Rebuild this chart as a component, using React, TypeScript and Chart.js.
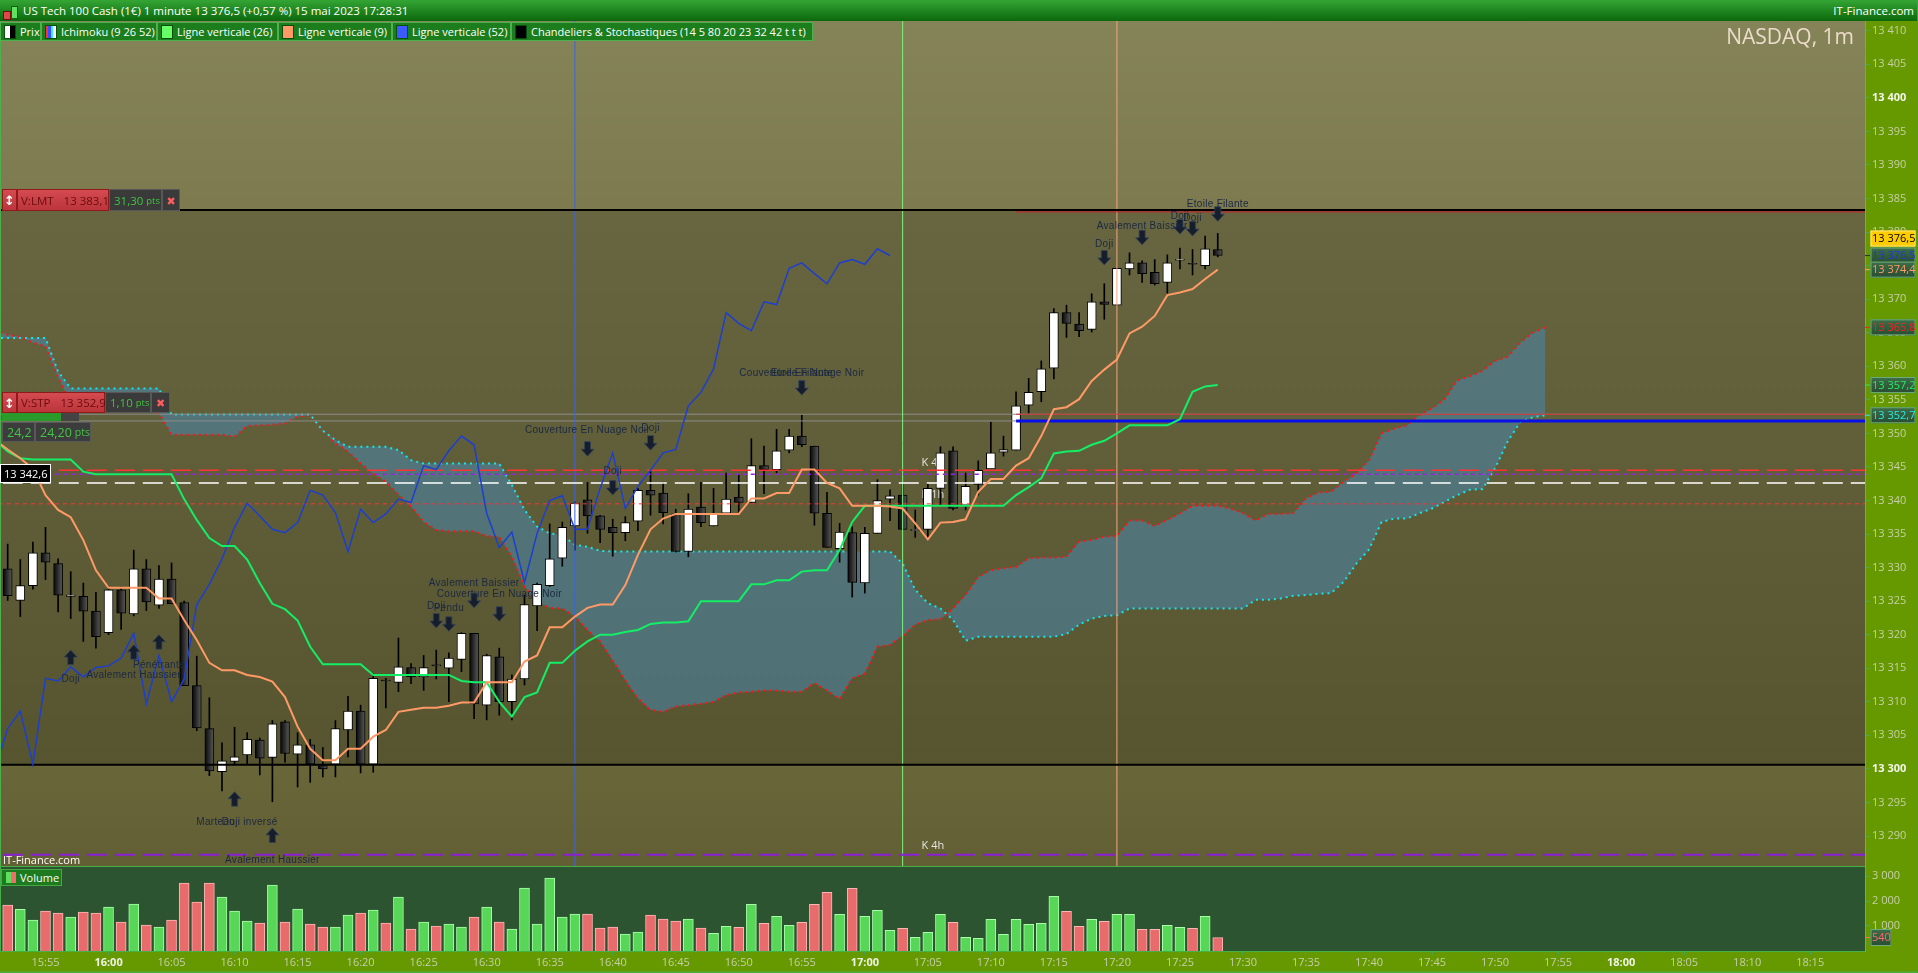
import React, { useEffect, useRef } from "react";
import { Chart, registerables } from "chart.js";

Chart.register(...registerables);

const FONT = "'Open Sans', 'Noto Sans', 'DejaVu Sans', sans-serif";

// ======================= DATA =======================
const firstCandleTime = "15:52";
const opens = [
  13329.8, 13325.1, 13327.3, 13332.2, 13330.6, 13325.7, 13325.7, 13323.5, 13320.3, 13326.7,
  13323.1, 13329.8, 13324.4, 13328.3, 13324.8, 13312.4, 13306.0, 13299.6, 13301.1, 13302.1,
  13304.3, 13301.7, 13307.0, 13302.2, 13303.6, 13300.5, 13300.7, 13305.8, 13308.6, 13300.7,
  13313.2, 13312.9, 13315.1, 13313.7, 13315.45, 13315.0, 13316.3, 13320.2, 13309.5, 13316.7,
  13310.0, 13313.4, 13324.3, 13327.3, 13331.4, 13336.2, 13340.1, 13337.7, 13336.0, 13335.2,
  13336.9, 13341.5, 13341.1, 13338.0, 13332.4, 13339.0, 13336.2, 13338.1, 13340.5, 13339.7,
  13345.2, 13344.6, 13347.5, 13349.6, 13348.1, 13338.1, 13332.8, 13335.2, 13327.7, 13335.1,
  13340.2, 13340.8, 13335.5, 13335.7, 13341.8, 13347.4, 13339.3, 13342.4, 13344.7, 13347.2,
  13347.5, 13354.2, 13356.2, 13359.7, 13368.0, 13366.3, 13365.5, 13369.6, 13369.1, 13374.5,
  13375.4, 13374.0, 13372.5, 13375.8, 13375.3, 13375.0, 13377.4,
];
const highs = [
  13333.5, 13331.2, 13333.8, 13336.0, 13331.3, 13329.4, 13327.7, 13326.3, 13327.1, 13327.1,
  13332.6, 13331.2, 13330.3, 13330.7, 13325.0, 13316.8, 13310.6, 13303.9, 13306.2, 13305.4,
  13304.6, 13307.2, 13307.2, 13305.4, 13304.4, 13303.2, 13307.2, 13310.8, 13309.5, 13314.2,
  13313.5, 13319.5, 13315.7, 13316.9, 13317.7, 13317.3, 13320.3, 13320.2, 13317.1, 13318.0,
  13314.0, 13325.9, 13327.7, 13336.5, 13336.8, 13339.8, 13342.7, 13337.8, 13337.2, 13337.6,
  13341.8, 13344.3, 13342.7, 13338.7, 13341.0, 13342.7, 13341.8, 13344.1, 13343.8, 13349.2,
  13348.1, 13350.6, 13350.6, 13352.7, 13348.1, 13341.2, 13336.6, 13336.1, 13336.0, 13343.1,
  13341.6, 13342.6, 13338.6, 13342.5, 13348.0, 13348.0, 13344.1, 13345.9, 13351.7, 13349.6,
  13356.2, 13358.2, 13360.8, 13368.6, 13369.1, 13368.0, 13370.8, 13372.3, 13374.6, 13376.9,
  13375.7, 13375.9, 13376.6, 13377.6, 13377.4, 13379.4, 13379.8,
];
const lows = [
  13325.1, 13322.7, 13326.8, 13328.2, 13323.4, 13322.4, 13319.0, 13318.0, 13320.0, 13320.8,
  13322.8, 13323.6, 13323.9, 13324.6, 13312.4, 13305.7, 13299.0, 13296.7, 13300.7, 13300.7,
  13299.1, 13295.1, 13301.0, 13297.3, 13298.0, 13298.8, 13298.8, 13301.8, 13299.4, 13299.5,
  13309.1, 13311.5, 13312.7, 13311.7, 13313.4, 13310.0, 13314.5, 13307.5, 13307.3, 13308.0,
  13307.3, 13312.5, 13320.6, 13327.2, 13330.2, 13332.6, 13335.1, 13333.7, 13331.7, 13334.0,
  13335.5, 13337.8, 13336.5, 13332.3, 13331.6, 13336.1, 13336.2, 13338.0, 13338.2, 13339.7,
  13341.0, 13344.1, 13347.1, 13348.0, 13336.3, 13333.0, 13330.8, 13325.6, 13326.2, 13335.1,
  13337.0, 13335.7, 13334.5, 13334.3, 13339.3, 13338.6, 13338.6, 13340.8, 13344.7, 13346.6,
  13347.5, 13353.0, 13354.7, 13358.1, 13364.3, 13364.4, 13365.1, 13367.0, 13369.1, 13373.6,
  13372.5, 13372.1, 13370.9, 13374.5, 13373.6, 13374.5, 13376.3,
];
const closes = [
  13325.8, 13327.3, 13332.2, 13330.8, 13325.9, 13325.9, 13323.5, 13319.7, 13326.7, 13323.2,
  13329.8, 13324.9, 13328.3, 13324.6, 13312.4, 13306.1, 13299.7, 13301.2, 13301.8, 13304.4,
  13301.6, 13306.7, 13302.3, 13303.6, 13300.7, 13300.0, 13306.0, 13308.6, 13300.7, 13313.5,
  13313.1, 13315.2, 13313.7, 13315.1, 13315.35, 13316.5, 13320.2, 13309.7, 13316.9, 13310.0,
  13313.4, 13324.5, 13327.5, 13331.3, 13336.0, 13339.6, 13337.7, 13335.7, 13335.2, 13336.7,
  13341.5, 13340.8, 13338.2, 13332.4, 13338.7, 13336.7, 13338.0, 13340.2, 13339.7, 13345.2,
  13344.6, 13347.4, 13349.6, 13348.3, 13338.1, 13333.0, 13335.3, 13327.8, 13335.1, 13340.0,
  13340.7, 13335.7, 13335.7, 13341.8, 13347.1, 13338.8, 13342.1, 13344.5, 13347.1, 13347.6,
  13354.1, 13356.1, 13359.6, 13368.0, 13366.4, 13365.3, 13369.6, 13369.2, 13374.6, 13375.4,
  13373.8, 13372.3, 13375.4, 13375.9, 13375.2, 13377.5, 13376.5,
];
const volumes = [
  1840, 1667, 1240, 1600, 1520, 1360, 1560, 1520, 1760, 1160,
  1880, 1040, 960, 1240, 2720, 1960, 2720, 2160, 1600, 1200,
  1120, 2640, 1160, 1680, 1080, 960, 960, 1440, 1520, 1640,
  1120, 2160, 880, 1160, 1000, 1080, 960, 1360, 1760, 1160,
  880, 2520, 1080, 2920, 1360, 1480, 1480, 920, 960, 680,
  760, 1440, 1280, 1200, 1280, 920, 707, 987, 947, 1867,
  1107, 1387, 1027, 1147, 1867, 2347, 1467, 2507, 1387, 1627,
  827, 907, 547, 747, 1467, 1147, 547, 507, 1267, 667,
  1267, 1067, 1107, 2187, 1587, 987, 1267, 1187, 1467, 1467,
  867, 867, 1027, 947, 907, 1387, 540,
];

// Ichimoku (9 26 52)
const tenkanStart = "15:51";
const tenkan = [
  13349.0, 13347.6, 13346.3, 13344.7, 13340.8, 13338.6, 13337.5, 13334.1, 13329.6, 13327.0,
  13327.0, 13327.0, 13327.0, 13325.4, 13325.4, 13322.2, 13319.2, 13315.8, 13314.7, 13314.7,
  13314.0, 13313.7, 13313.0, 13310.7, 13306.3, 13303.0, 13301.3, 13301.3, 13303.0, 13303.0,
  13304.8, 13305.8, 13308.5, 13308.8, 13309.1, 13309.1, 13309.4, 13309.9, 13309.9, 13312.9,
  13312.9, 13312.9, 13316.0, 13316.9, 13321.1, 13321.1, 13322.7, 13324.0, 13324.5, 13324.5,
  13327.4, 13331.9, 13335.7, 13337.3, 13338.0, 13338.0, 13338.0, 13338.0, 13338.0, 13338.0,
  13340.3, 13340.3, 13341.1, 13341.1, 13344.6, 13344.6, 13342.6, 13341.8, 13339.2, 13339.2,
  13339.2, 13339.1, 13338.8, 13336.6, 13334.2, 13336.7, 13336.8, 13337.2, 13341.3, 13343.2,
  13343.2, 13345.2, 13346.3, 13349.6, 13353.6, 13353.9, 13355.1, 13357.8, 13359.5, 13361.0,
  13364.9, 13365.9, 13367.5, 13370.6, 13371.0, 13371.5, 13373.0, 13374.4,
];
const kijunStart = "15:51";
const kijun = [
  13349.0, 13347.3, 13346.3, 13346.1, 13346.1, 13346.1, 13346.1, 13344.3, 13343.9, 13343.9,
  13343.9, 13343.9, 13343.9, 13343.9, 13343.9, 13340.2, 13337.1, 13334.4, 13333.2, 13333.2,
  13331.2, 13327.7, 13324.6, 13323.8, 13322.1, 13318.2, 13315.6, 13315.6, 13315.6, 13315.6,
  13314.0, 13314.0, 13314.0, 13314.0, 13314.0, 13314.0, 13314.0, 13313.1, 13312.9, 13312.9,
  13310.0, 13307.8, 13310.7, 13311.4, 13315.8, 13315.8, 13317.6, 13319.0, 13320.0, 13320.0,
  13320.4, 13320.7, 13321.6, 13321.8, 13321.8, 13322.0, 13325.0, 13325.0, 13325.0, 13325.0,
  13327.5, 13327.5, 13328.1, 13328.1, 13329.4, 13329.6, 13329.6, 13332.6, 13336.8, 13339.2,
  13339.2, 13339.2, 13339.2, 13339.2, 13339.2, 13339.2, 13339.2, 13339.2, 13339.2, 13339.2,
  13339.2, 13340.8, 13342.0, 13343.3, 13347.0, 13347.3, 13347.4, 13348.3, 13348.9, 13350.0,
  13351.2, 13351.2, 13351.2, 13351.2, 13352.1, 13356.2, 13357.0, 13357.2,
];
const cloudStart = "15:51";
const senkouA = [
  13365.4, 13364.7, 13364.4, 13363.5, 13363.0, 13358.4, 13354.5, 13353.8, 13353.8, 13353.8,
  13353.8, 13353.8, 13353.8, 13353.0, 13349.8, 13349.8, 13349.8, 13349.8, 13349.8, 13349.5,
  13351.1, 13351.2, 13351.3, 13351.5, 13352.5, 13352.7, 13350.5, 13348.5, 13347.3, 13345.5,
  13344.0, 13342.8, 13340.9, 13339.1, 13336.8, 13335.6, 13335.4, 13335.4, 13335.4, 13334.7,
  13334.6, 13331.6, 13327.2, 13324.9, 13324.0, 13323.9, 13322.7, 13320.7, 13319.0, 13316.2,
  13313.2, 13310.5, 13308.8, 13308.5, 13309.3, 13309.5, 13309.7, 13310.0, 13311.0, 13311.4,
  13311.5, 13311.7, 13311.7, 13311.5, 13311.5, 13312.8, 13311.7, 13310.4, 13313.5, 13314.2,
  13318.2, 13318.5, 13319.8, 13321.5, 13322.2, 13322.3, 13323.9, 13325.9, 13328.6, 13329.6,
  13329.9, 13330.1, 13331.4, 13331.5, 13331.5, 13331.6, 13333.9, 13334.1, 13334.6, 13334.7,
  13337.0, 13337.0, 13336.2, 13337.1, 13338.1, 13339.2, 13339.2, 13339.2, 13338.8, 13338.1,
  13337.0, 13338.0, 13338.0, 13338.1, 13340.3, 13341.2, 13341.3, 13342.8, 13344.0, 13346.0,
  13350.0, 13350.7, 13351.2, 13352.7, 13353.7, 13355.1, 13357.9, 13358.5, 13359.3, 13360.8,
  13361.4, 13363.5, 13365.0, 13365.8,
];
const senkouB = [
  13364.2, 13364.2, 13364.2, 13364.2, 13364.2, 13359.2, 13356.7, 13356.7, 13356.7, 13356.7,
  13356.7, 13356.7, 13356.7, 13356.7, 13352.8, 13352.8, 13352.8, 13352.8, 13352.8, 13352.8,
  13352.8, 13352.8, 13352.8, 13352.8, 13352.8, 13352.8, 13350.4, 13349.0, 13348.0, 13348.0,
  13348.0, 13348.0, 13347.5, 13346.0, 13345.5, 13345.5, 13345.5, 13345.5, 13345.5, 13345.5,
  13345.5, 13342.3, 13338.6, 13336.1, 13335.1, 13334.8, 13333.4, 13333.1, 13332.5, 13332.4,
  13332.4, 13332.4, 13332.4, 13332.4, 13332.4, 13332.4, 13332.4, 13332.4, 13332.4, 13332.4,
  13332.4, 13332.4, 13332.4, 13332.4, 13332.4, 13332.4, 13332.4, 13332.4, 13332.4, 13332.4,
  13332.4, 13332.4, 13330.6, 13326.7, 13324.7, 13323.9, 13322.2, 13319.1, 13319.7, 13319.7,
  13319.7, 13319.7, 13319.7, 13319.7, 13319.7, 13320.1, 13321.5, 13322.4, 13322.8, 13322.9,
  13323.9, 13323.9, 13323.9, 13323.9, 13323.9, 13323.9, 13323.9, 13323.9, 13323.9, 13323.9,
  13325.2, 13325.2, 13325.4, 13325.8, 13325.9, 13326.1, 13326.2, 13327.9, 13330.6, 13332.7,
  13336.8, 13337.3, 13337.3, 13338.1, 13338.8, 13339.8, 13340.8, 13341.6, 13341.7, 13344.8,
  13348.8, 13351.7, 13352.4, 13352.7,
];
const chikouShift = 26;

// Levels (prices)
const limitLevel = 13383.3; // V:LMT
const limitTrailLevel = 13383.0;
const stopLevel = 13352.85; // V:STP
const blueLevel = 13351.85;
const longDashRedLevel = 13344.5;
const purpleDashLevel = 13343.9;
const whiteDashLevel = 13342.6;
const shortDashRedLevel = 13339.5;
const supportLevel = 13300.6;
const lowPurpleLevel = 13287.2;
const levelStartTime = "17:12";
const verticalLineTimes = ["16:37", "17:03", "17:20"];

// Pattern markers: [time, price of arrow tip, direction]
const patternArrows = [
  ["15:57", 13317.7, "up"], ["16:02", 13318.5, "up"], ["16:04", 13320.0, "up"],
  ["16:10", 13296.6, "up"], ["16:13", 13291.2, "up"],
  ["16:26", 13321.0, "down"], ["16:27", 13320.5, "down"], ["16:29", 13324.0, "down"],
  ["16:31", 13322.0, "down"], ["16:38", 13346.6, "down"], ["16:40", 13340.8, "down"],
  ["16:43", 13347.5, "down"], ["16:55", 13355.7, "down"], ["17:19", 13375.1, "down"],
  ["17:22", 13378.1, "down"], ["17:25", 13379.7, "down"], ["17:26", 13379.4, "down"],
  ["17:28", 13381.6, "down"],
];
// [time, minute offset, price, text]
const patternLabels = [
  ["15:57", 0, 13313.3, "Doji"],
  ["16:02", 0, 13313.9, "Avalement Haussier"],
  ["16:04", 0, 13315.4, "Pénétrante"],
  ["16:10", -1.5, 13292.1, "Marteau"],
  ["16:10", 1.2, 13292.1, "Doji inversé"],
  ["16:13", 0, 13286.4, "Avalement Haussier"],
  ["16:26", 0, 13324.3, "Doji"],
  ["16:27", 0, 13324.0, "Pendu"],
  ["16:29", 0, 13327.6, "Avalement Baissier"],
  ["16:31", 0, 13326.0, "Couverture En Nuage Noir"],
  ["16:38", 0, 13350.4, "Couverture En Nuage Noir"],
  ["16:40", 0, 13344.4, "Doji"],
  ["16:43", 0, 13350.8, "Doji"],
  ["16:55", 0, 13358.9, "Couverture En Nuage Noir"],
  ["16:55", 0, 13358.9, "Etoile Filante"],
  ["17:19", 0, 13378.2, "Doji"],
  ["17:22", 0, 13380.8, "Avalement Baissier"],
  ["17:25", 0, 13382.4, "Doji"],
  ["17:26", 0, 13382.0, "Doji"],
  ["17:28", 0, 13384.2, "Etoile Filante"],
];
const timeframeLabels = [
  ["17:04", 0.5, 13345.6, "K 4h"],
  ["17:04", 0.5, 13340.8, "K 1h"],
  ["17:04", 0.5, 13288.6, "K 4h"],
];

const priceTicks = [
  13290, 13295, 13300, 13305, 13310, 13315, 13320, 13325, 13330, 13335, 13340, 13345, 13350,
  13355, 13360, 13365, 13370, 13375, 13380, 13385, 13390, 13395, 13400, 13405, 13410,
];
const volumeTicks = [1000, 2000, 3000];
const timeTicks = [
  "15:55", "16:00", "16:05", "16:10", "16:15", "16:20", "16:25", "16:30", "16:35", "16:40",
  "16:45", "16:50", "16:55", "17:00", "17:05", "17:10", "17:15", "17:20", "17:25", "17:30",
  "17:35", "17:40", "17:45", "17:50", "17:55", "18:00", "18:05", "18:10", "18:15",
];

// ======================= VIEW =======================
const X_MIN = 951.39;
const X_MAX = 1099.35;
const Y_MIN = 13285.53;
const Y_MAX = 13411.45;
const VOL_MAX = 3400;
const CLOUD = "rgba(70,140,190,0.48)";

const toMin = (t: string) => {
  const [h, m] = t.split(":").map(Number);
  return h * 60 + m;
};
const seriesPoints = (start: string, values: number[]) =>
  values.map((v, i) => ({ x: toMin(start) + i, y: v }));
const candleMinutes = opens.map((_, i) => toMin(firstCandleTime) + i);
const isUp = (i: number) => closes[i] >= opens[i];

function fmtNum(v: number, decimals: number) {
  const fixed = Math.abs(v).toFixed(decimals);
  const [ip, dp] = fixed.split(".");
  const sp = ip.replace(/\B(?=(\d{3})+(?!\d))/g, " ");
  return (v < 0 ? "-" : "") + sp + (dp ? "," + dp : "");
}

const bodyColor = (c: any) => {
  const i = c.dataIndex;
  if (i == null || isUp(i)) return "#ffffff";
  const chart = c.chart;
  const xs = chart.scales && chart.scales.x;
  if (!xs || !chart.ctx) return "#111111";
  const px = xs.getPixelForValue(candleMinutes[i]);
  if (!Number.isFinite(px)) return "#111111";
  const g = chart.ctx.createLinearGradient(px - 4.5, 0, px + 4.5, 0);
  g.addColorStop(0, "#060606");
  g.addColorStop(1, "#5a5a5a");
  return g;
};

function vGrad(ctx: CanvasRenderingContext2D, y0: number, y1: number, c0: string, c1: string) {
  if (!Number.isFinite(y0) || !Number.isFinite(y1) || y0 === y1) return c0;
  const g = ctx.createLinearGradient(0, y0, 0, y1);
  g.addColorStop(0, c0);
  g.addColorStop(1, c1);
  return g;
}

function drawArrow(ctx: CanvasRenderingContext2D, x: number, y: number, dir: string) {
  const s = dir === "up" ? 1 : -1;
  ctx.beginPath();
  ctx.moveTo(x, y);
  ctx.lineTo(x + 6.5, y + s * 7);
  ctx.lineTo(x + 3, y + s * 7);
  ctx.lineTo(x + 3, y + s * 14.5);
  ctx.lineTo(x - 3, y + s * 14.5);
  ctx.lineTo(x - 3, y + s * 7);
  ctx.lineTo(x - 6.5, y + s * 7);
  ctx.closePath();
  ctx.fillStyle = "#161e2c";
  ctx.fill();
  ctx.strokeStyle = "#34425c";
  ctx.lineWidth = 0.8;
  ctx.stroke();
}

const priceBackground = {
  id: "priceBackground",
  beforeDraw(chart: any) {
    const { ctx, chartArea, scales } = chart;
    const { left, right, top, bottom } = chartArea;
    ctx.save();
    ctx.fillStyle = "#669900";
    ctx.fillRect(0, 0, chart.width, chart.height);
    const yL = scales.y.getPixelForValue(limitLevel);
    const yS = scales.y.getPixelForValue(supportLevel);
    const zone = (y0: number, y1: number, c0: string, c1: string) => {
      ctx.fillStyle = vGrad(ctx, y0, y1, c0, c1);
      ctx.fillRect(left, y0, right - left, y1 - y0);
    };
    zone(top, yL, "#858358", "#7c7a4e");
    zone(yL, yS, "#676641", "#575530");
    zone(yS, bottom, "#696639", "#625f35");
    ctx.restore();
  },
  beforeDatasetsDraw(chart: any) {
    const { ctx, scales } = chart;
    ctx.save();
    ctx.font = `11px ${FONT}`;
    ctx.fillStyle = "rgba(240,240,235,0.92)";
    ctx.textAlign = "left";
    ctx.textBaseline = "middle";
    for (const [t, off, p, txt] of timeframeLabels as any[]) {
      ctx.fillText(txt, scales.x.getPixelForValue(toMin(t) + off), scales.y.getPixelForValue(p));
    }
    ctx.restore();
  },
  afterDatasetsDraw(chart: any) {
    const { ctx, scales } = chart;
    ctx.save();
    for (const [t, p, dir] of patternArrows as any[]) {
      drawArrow(ctx, scales.x.getPixelForValue(toMin(t)), scales.y.getPixelForValue(p), dir);
    }
    ctx.font = `10px 'Liberation Sans', Arial, sans-serif`;
    try { (ctx as any).letterSpacing = "0.3px"; } catch (e) {}
    ctx.fillStyle = "#1b2842";
    ctx.textAlign = "center";
    ctx.textBaseline = "middle";
    for (const [t, off, p, txt] of patternLabels as any[]) {
      ctx.fillText(txt, scales.x.getPixelForValue(toMin(t) + off), scales.y.getPixelForValue(p));
    }
    ctx.restore();
  },
  afterDraw(chart: any) {
    const { ctx, chartArea, scales } = chart;
    const y = scales.y;
    ctx.save();
    try { (ctx as any).letterSpacing = "0px"; } catch (e) {}
    ctx.fillStyle = "#4cb04c";
    ctx.fillRect(0, 0, 1, chart.height);
    const last = closes.length - 1;
    const tags = [
      { value: closes[last], fg: "#1b3bd0", bg: null },
      { value: tenkan[tenkan.length - 1], fg: "#ff9a66", bg: null },
      { value: senkouA[senkouA.length - 1], fg: "#ff1e1e", bg: null },
      { value: kijun[kijun.length - 1], fg: "#22ee66", bg: null },
      { value: senkouB[senkouB.length - 1], fg: "#22eeee", bg: null },
      { value: closes[last], fg: "#000000", bg: "#ffcc00" },
    ];
    const H = 16;
    const placed: number[][] = [];
    ctx.font = `11px ${FONT}`;
    ctx.textBaseline = "middle";
    ctx.textAlign = "left";
    for (const tg of tags) {
      const vy = y.getPixelForValue(tg.value);
      let top = vy - H / 2;
      let moved = true;
      let guard = 0;
      while (moved && guard < 20) {
        moved = false;
        guard++;
        for (const [a, b] of placed) {
          if (top < b - 3 && top + H > a + 3) {
            top = a - H - 1;
            moved = true;
          }
        }
      }
      placed.push([top, top + H]);
      const left = chartArea.right + 5.5;
      const w = 45;
      ctx.fillStyle = tg.bg ? "#333" : tg.fg;
      ctx.fillRect(chartArea.right, vy - 0.5, 5, 1);
      if (tg.bg) {
        ctx.fillStyle = tg.bg;
        ctx.fillRect(left, top, w, H);
        ctx.strokeStyle = "#ffe47a";
      } else {
        ctx.fillStyle = vGrad(ctx, top, top + H, "#3f6e49", "#294d33");
        ctx.fillRect(left, top, w, H);
        ctx.strokeStyle = "#6cae7a";
      }
      ctx.lineWidth = 1;
      ctx.strokeRect(left + 0.5, top + 0.5, w - 1, H - 1);
      ctx.fillStyle = tg.fg;
      ctx.fillText(fmtNum(tg.value, 1), left + 1.5, top + H / 2 + 0.5);
    }
    ctx.restore();
  },
};

const volumeBackground = {
  id: "volumeBackground",
  beforeDraw(chart: any) {
    const { ctx, chartArea } = chart;
    ctx.save();
    ctx.fillStyle = "#669900";
    ctx.fillRect(0, 0, chart.width, chart.height);
    ctx.fillStyle = "#2c5431";
    ctx.fillRect(chartArea.left, chartArea.top, chartArea.right - chartArea.left, chartArea.bottom - chartArea.top);
    ctx.restore();
  },
  afterDraw(chart: any) {
    const { ctx, chartArea, scales } = chart;
    ctx.save();
    ctx.fillStyle = "#45b045";
    ctx.fillRect(0, 0, chartArea.right, 1);
    ctx.fillRect(0, 0, 1, chartArea.bottom);
    ctx.fillRect(0, chart.height - 1.5, chart.width, 1.5);
    const v = volumes[volumes.length - 1];
    const vy = scales.y.getPixelForValue(v);
    const H = 17;
    const left = chartArea.right + 5.5;
    const w = 21;
    ctx.fillStyle = "#ff6a6a";
    ctx.fillRect(chartArea.right, vy - 0.5, 5, 1);
    ctx.fillStyle = vGrad(ctx, vy - H / 2, vy + H / 2, "#3f6e49", "#294d33");
    ctx.fillRect(left, vy - H / 2, w, H);
    ctx.strokeStyle = "#6cae7a";
    ctx.strokeRect(left + 0.5, vy - H / 2 + 0.5, w - 1, H - 1);
    ctx.fillStyle = "#ff6a6a";
    ctx.font = `11px ${FONT}`;
    ctx.textBaseline = "middle";
    ctx.fillText(fmtNum(v, 0), left + 1.5, vy + 0.5);
    ctx.restore();
  },
};

function line(data: any[], color: string, width: number, order: number, dash: number[] = []) {
  return {
    type: "line",
    data,
    borderColor: color,
    borderWidth: width,
    borderDash: dash,
    borderCapStyle: "butt",
    pointRadius: 0,
    pointHoverRadius: 0,
    tension: 0,
    fill: false,
    order,
  };
}

function buildPriceConfig(): any {
  const ls = toMin(levelStartTime);
  const hl = (level: number, from = X_MIN - 2, to = X_MAX + 2) => [
    { x: from, y: level },
    { x: to, y: level },
  ];
  const vl = (t: string) => [
    { x: toMin(t), y: Y_MIN - 2 },
    { x: toMin(t), y: Y_MAX + 2 },
  ];
  const datasets: any[] = [
    line(seriesPoints(tenkanStart, tenkan), "#ff9a66", 2, 1),
    line(seriesPoints(kijunStart, kijun), "#14ee66", 2, 2),
    line(closes.map((c, i) => ({ x: candleMinutes[i] - chikouShift, y: c })), "#1d3fcf", 1.5, 3),
    line(hl(limitLevel), "#000000", 2, 4),
    line(hl(limitTrailLevel, ls), "#c41e28", 1, 4),
    line(hl(stopLevel), "#8c8c8c", 1, 5),
    line(hl(blueLevel), "#8c8c8c", 1, 5),
    line(hl(stopLevel, ls), "#d03030", 1.2, 4),
    line(hl(blueLevel, ls), "#0a10e8", 3, 4),
    line(hl(longDashRedLevel), "#ff3333", 1.5, 4, [20, 8]),
    line(hl(purpleDashLevel), "#9a22e6", 1.5, 4, [4, 4]),
    line(hl(whiteDashLevel), "#ffffff", 1.5, 4, [20, 8]),
    line(hl(shortDashRedLevel), "#ff3333", 1, 4, [4, 4]),
    line(hl(supportLevel), "#000000", 2, 4),
    line(hl(lowPurpleLevel), "#8c1fd6", 2, 4, [20, 8]),
    line(vl(verticalLineTimes[0]), "#3a64e6", 1, 4),
    line(vl(verticalLineTimes[1]), "#7ff07f", 1, 4),
    line(vl(verticalLineTimes[2]), "#f2a67a", 1, 4),
    {
      type: "bar",
      data: candleMinutes.map((m, i) => ({ x: m, y: [opens[i], closes[i]] })),
      barThickness: 9,
      borderWidth: 1,
      borderColor: "#000000",
      borderSkipped: false,
      grouped: false,
      minBarLength: 1,
      backgroundColor: bodyColor,
      order: 10,
    },
    {
      type: "bar",
      data: candleMinutes.map((m, i) => ({ x: m, y: [lows[i], highs[i]] })),
      barThickness: 1,
      borderWidth: 0,
      backgroundColor: "#000000",
      grouped: false,
      order: 11,
    },
    {
      ...line(seriesPoints(cloudStart, senkouA), "#ff1414", 2, 21, [2, 4]),
      fill: { target: "+1", above: CLOUD, below: CLOUD },
    },
    line(seriesPoints(cloudStart, senkouB), "#14e6ee", 2, 20, [2, 4]),
  ];
  return {
    type: "bar",
    data: { datasets },
    options: {
      animation: false,
      responsive: false,
      maintainAspectRatio: false,
      devicePixelRatio: 1,
      events: [],
      layout: { padding: 0, autoPadding: false },
      plugins: { legend: { display: false }, tooltip: { enabled: false }, title: { display: false } },
      scales: {
        x: { type: "linear", min: X_MIN, max: X_MAX, display: false, offset: false, grid: { offset: false } },
        y: {
          type: "linear",
          position: "right",
          min: Y_MIN,
          max: Y_MAX,
          afterFit: (s: any) => {
            s.width = 53;
            s.paddingTop = 0;
            s.paddingBottom = 0;
          },
          afterBuildTicks: (s: any) => {
            s.ticks = priceTicks.map((v) => ({ value: v }));
          },
          grid: { drawOnChartArea: false, drawTicks: true, tickLength: 5, color: "#48a860", lineWidth: 1 },
          border: { display: true, color: "#5cb85c", width: 1 },
          ticks: {
            padding: 2,
            autoSkip: false,
            color: (c: any) => (c.tick && c.tick.value % 100 === 0 ? "#f4f6ea" : "#c6cfaa"),
            font: (c: any) => ({
              family: FONT,
              size: 11,
              weight: c.tick && c.tick.value % 100 === 0 ? "bold" : "normal",
            }),
            callback: (v: number) => fmtNum(v, 0),
          },
        },
      },
    },
    plugins: [priceBackground],
  };
}

function buildVolumeConfig(): any {
  return {
    type: "bar",
    data: {
      datasets: [
        {
          data: candleMinutes.map((m, i) => ({ x: m, y: volumes[i] })),
          barThickness: 10,
          borderWidth: 1,
          backgroundColor: (c: any) => (c.dataIndex == null || isUp(c.dataIndex) ? "#57d657" : "#e96c6c"),
          borderColor: (c: any) => (c.dataIndex == null || isUp(c.dataIndex) ? "#a8ffa8" : "#ffb6b6"),
        },
      ],
    },
    options: {
      animation: false,
      responsive: false,
      maintainAspectRatio: false,
      devicePixelRatio: 1,
      events: [],
      layout: { padding: 0, autoPadding: false },
      plugins: { legend: { display: false }, tooltip: { enabled: false } },
      scales: {
        x: {
          type: "linear",
          min: X_MIN,
          max: X_MAX,
          position: "bottom",
          offset: false,
          afterFit: (s: any) => {
            s.height = 22;
            s.paddingLeft = 0;
            s.paddingRight = 0;
          },
          afterBuildTicks: (s: any) => {
            s.ticks = timeTicks.map((t) => ({ value: toMin(t) }));
          },
          grid: { offset: false, drawOnChartArea: false, drawTicks: true, tickLength: 4, color: "#3ea55a" },
          border: { display: true, color: "#45b045" },
          ticks: {
            padding: 1,
            autoSkip: false,
            maxRotation: 0,
            minRotation: 0,
            color: (c: any) => (c.tick && c.tick.value % 60 === 0 ? "#f0f4e4" : "#c6cfaa"),
            font: (c: any) => ({
              family: FONT,
              size: 11,
              weight: c.tick && c.tick.value % 60 === 0 ? "bold" : "normal",
            }),
            callback: (_v: number, i: number) => timeTicks[i],
          },
        },
        y: {
          type: "linear",
          position: "right",
          min: 0,
          max: VOL_MAX,
          afterFit: (s: any) => {
            s.width = 53;
            s.paddingTop = 0;
            s.paddingBottom = 0;
          },
          afterBuildTicks: (s: any) => {
            s.ticks = volumeTicks.map((v) => ({ value: v }));
          },
          grid: { drawOnChartArea: false, drawTicks: true, tickLength: 5, color: "#48a860" },
          border: { display: true, color: "#5cb85c" },
          ticks: {
            padding: 2,
            autoSkip: false,
            color: "#c6cfaa",
            font: { family: FONT, size: 11 },
            callback: (v: number) => fmtNum(v, 0),
          },
        },
      },
    },
    plugins: [volumeBackground],
  };
}

function ChartCanvas({ build, top, height }: { build: () => any; top: number; height: number }) {
  const ref = useRef<HTMLCanvasElement | null>(null);
  useEffect(() => {
    if (!ref.current) return;
    const chart = new Chart(ref.current, build());
    return () => chart.destroy();
  }, []);
  return (
    <canvas
      ref={ref}
      width={1918}
      height={height}
      style={{ position: "absolute", left: 0, top, width: 1918, height, display: "block" }}
    />
  );
}

const legendItems = [
  { text: "Prix", width: 41, icon: "linear-gradient(90deg,#ffffff 0 50%,#000000 50% 100%)" },
  {
    text: "Ichimoku (9 26 52)",
    width: 116,
    icon: "linear-gradient(90deg,#ff3030 0 25%,#3050ff 25% 50%,#30f0f0 50% 75%,#ffffff 75% 100%)",
  },
  { text: "Ligne verticale (26)", width: 121, icon: "#66ff66" },
  { text: "Ligne verticale (9)", width: 114, icon: "#ff9966" },
  { text: "Ligne verticale (52)", width: 119, icon: "#3a5cff" },
  { text: "Chandeliers & Stochastiques (14 5 80 20 23 32 42 t t t)", width: 302, icon: "#000000" },
];

const cellCenter: any = { display: "flex", alignItems: "center", boxSizing: "border-box", height: "100%" };
const redCell: any = {
  ...cellCenter,
  background: "linear-gradient(#d44b50, #bb353b)",
  color: "#6a0c0c",
  border: "1px solid #8e1a1a",
};
const grayCell: any = { ...cellCenter, background: "#3a3a3a", border: "1px solid #585858", color: "#3fc43f" };

function OrderTag({ top, height, kind, price, pts, widths }: any) {
  return (
    <div style={{ position: "absolute", left: 2, top, height, display: "flex", font: `11.5px ${FONT}`, zIndex: 3 }}>
      <div style={{ ...redCell, width: widths[0], justifyContent: "center", color: "#ffffff", fontWeight: "bold", fontSize: 13 }}>
        ↕
      </div>
      <div style={{ ...redCell, width: widths[1], paddingLeft: 3, gap: 10, whiteSpace: "nowrap" }}>
        <span>{kind}</span>
        <span>{price}</span>
      </div>
      <div style={{ ...grayCell, width: widths[2], paddingLeft: 4, whiteSpace: "nowrap" }}>
        <span>{pts}</span>
        <span style={{ fontSize: 9.5, marginLeft: 3 }}>pts</span>
      </div>
      <div style={{ ...grayCell, width: widths[3], justifyContent: "center", color: "#ff5d5d", fontSize: 11 }}>✖</div>
    </div>
  );
}

export default function App() {
  let acc = 0;
  return (
    <div
      style={{
        position: "fixed",
        left: 0,
        top: 0,
        width: 1918,
        height: 973,
        background: "#669900",
        overflow: "hidden",
        fontFamily: FONT,
      }}
    >
      <ChartCanvas build={buildPriceConfig} top={21} height={845} />
      <ChartCanvas build={buildVolumeConfig} top={866} height={107} />

      {/* header */}
      <div
        style={{
          position: "absolute",
          left: 0,
          top: 0,
          width: 1918,
          height: 21,
          background: "linear-gradient(#34a534, #0c680c)",
          color: "#ffffff",
          font: `11.5px ${FONT}`,
          lineHeight: "21px",
          whiteSpace: "nowrap",
          zIndex: 3,
        }}
      >
        <div style={{ position: "absolute", left: 3, top: 11, width: 6, height: 7, background: "#e04848", border: "1px solid #6a1010" }} />
        <div style={{ position: "absolute", left: 11, top: 6, width: 5, height: 11, background: "#60e060", border: "1px solid #106010" }} />
        <span style={{ position: "absolute", left: 23, top: 0 }}>
          US Tech 100 Cash (1€) 1 minute 13 376,5 (+0,57 %) 15 mai 2023 17:28:31
        </span>
        <span style={{ position: "absolute", right: 4, top: 0 }}>IT-Finance.com</span>
      </div>

      {/* legend */}
      {legendItems.map((it) => {
        const left = acc;
        acc += it.width;
        return (
          <div
            key={it.text}
            style={{
              position: "absolute",
              left,
              top: 22,
              width: it.width,
              height: 19,
              boxSizing: "border-box",
              background: "#1b7d1b",
              border: "1px solid #4fb04f",
              display: "flex",
              alignItems: "center",
              paddingLeft: 3,
              gap: 4,
              color: "#ffffff",
              font: `11px ${FONT}`,
              whiteSpace: "nowrap",
              zIndex: 3,
            }}
          >
            <span style={{ width: 10, height: 12, background: it.icon, border: "1px solid #0d4d0d", flex: "0 0 auto" }} />
            <span>{it.text}</span>
          </div>
        );
      })}

      {/* watermark */}
      <div
        style={{
          position: "absolute",
          right: 64,
          top: 22,
          color: "#ecdccb",
          font: `21px ${FONT}`,
          whiteSpace: "nowrap",
          zIndex: 2,
        }}
      >
        NASDAQ, 1m
      </div>

      {/* order tags */}
      <OrderTag top={189} height={22} kind="V:LMT" price="13 383,1" pts="31,30" widths={[15, 92, 53, 18]} />
      <OrderTag top={392} height={21} kind="V:STP" price="13 352,9" pts="1,10" widths={[15, 88, 46, 19]} />
      <div style={{ position: "absolute", left: 2, top: 413, width: 59, height: 8, background: "#2a9a2a", zIndex: 3 }} />
      <div style={{ position: "absolute", left: 61, top: 413, width: 18, height: 8, background: "#444444", zIndex: 3 }} />
      <div
        style={{
          position: "absolute",
          left: 2,
          top: 422,
          height: 20,
          display: "flex",
          font: `12.5px ${FONT}`,
          zIndex: 3,
        }}
      >
        <div style={{ ...grayCell, width: 33, paddingLeft: 4, background: "#3c3c3c", color: "#44c444" }}>24,2</div>
        <div style={{ ...grayCell, width: 56, paddingLeft: 4, background: "#3c3c3c", color: "#44c444", whiteSpace: "nowrap" }}>
          <span>24,20</span>
          <span style={{ fontSize: 10.5, marginLeft: 3 }}>pts</span>
        </div>
      </div>
      <div
        style={{
          position: "absolute",
          left: 0,
          top: 464,
          width: 51,
          height: 19,
          boxSizing: "border-box",
          background: "#000000",
          border: "1px solid #ffffff",
          color: "#ffffff",
          font: `11px ${FONT}`,
          lineHeight: "17px",
          paddingLeft: 3,
          whiteSpace: "nowrap",
          zIndex: 3,
        }}
      >
        13 342,6
      </div>

      <div
        style={{
          position: "absolute",
          left: 3,
          top: 852,
          color: "#ffffff",
          font: `11px ${FONT}`,
          whiteSpace: "nowrap",
          zIndex: 2,
        }}
      >
        IT-Finance.com
      </div>

      {/* volume label */}
      <div
        style={{
          position: "absolute",
          left: 1,
          top: 869,
          width: 61,
          height: 17,
          boxSizing: "border-box",
          background: "#1e7a1e",
          border: "1px solid #45a845",
          display: "flex",
          alignItems: "center",
          paddingLeft: 4,
          gap: 4,
          color: "#ffffff",
          font: `11px ${FONT}`,
          zIndex: 3,
        }}
      >
        <span style={{ width: 10, height: 11, background: "linear-gradient(90deg,#5ee05e 0 50%,#ee6e6e 50% 100%)" }} />
        <span>Volume</span>
      </div>

      <div style={{ position: "absolute", right: 0, top: 0, width: 1.5, height: 973, background: "#3fa03f", zIndex: 4 }} />
    </div>
  );
}
